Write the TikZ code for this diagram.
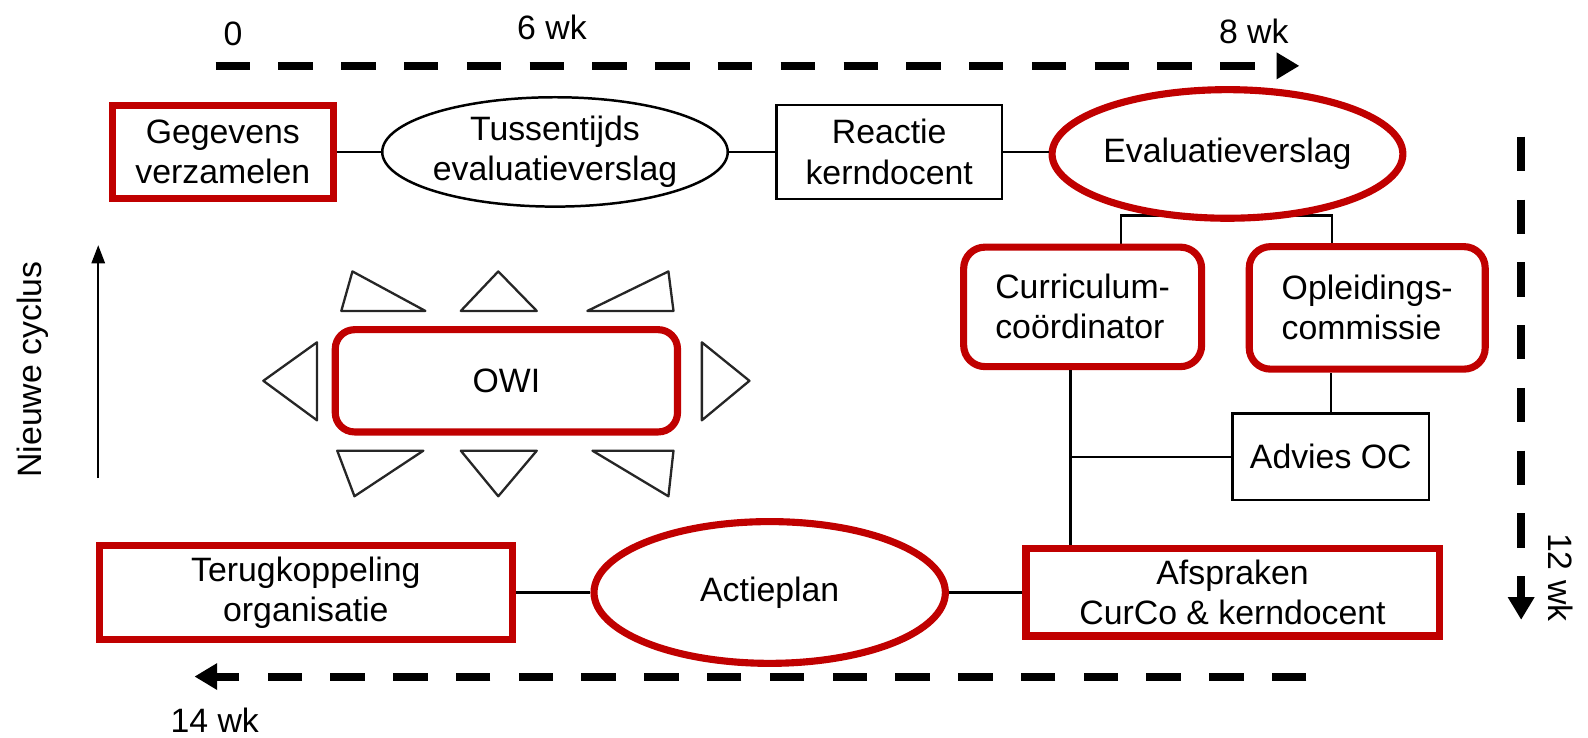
\documentclass[tikz,border=0pt]{standalone}
\usepackage{fontspec}
\setmainfont{Liberation Sans}
\usetikzlibrary{shapes,backgrounds,calc,arrows.meta}
\usepackage{xcolor}
\definecolor{hred}{HTML}{C00000}

\tikzset{
  lbl/.style={font=\fontsize{19}{22.5}\selectfont, align=center, inner sep=0pt},
  box/.style={lbl, draw, line width=1.4pt, rectangle, fill=white},
  redbox/.style={lbl, draw=hred, line width=4pt, rectangle, fill=white},
  redround/.style={redbox, rounded corners=0.42cm},
  bubble/.style={lbl, draw, line width=1.4pt, ellipse, fill=white},
  redbubble/.style={lbl, draw=hred, line width=4pt, ellipse, fill=white},
  link/.style={line width=1.4pt},
  timeline/.style={line width=4.5pt, dash pattern=on 0.68cm off 0.56cm,
    -{Triangle[length=0.45cm,width=0.5cm]}},
  tri/.style={line width=1.3pt, draw=black!85, line join=round}
}

\begin{document}
\begin{tikzpicture}[x=0.02cm, y=-0.02cm]
  \useasboundingbox (0,0) rectangle (1568,728);

  % top row
  \node[redbox, minimum width=4.36cm, minimum height=1.84cm] (geg) at (220,150) {Gegevens\\verzamelen};
  \node[bubble, minimum width=6.54cm, minimum height=2.16cm] (tus) at (548,150) {Tussentijds\\evaluatieverslag};
  \node[box, minimum width=4.46cm, minimum height=1.86cm] (rea) at (878,150) {Reactie\\kerndocent};
  \node[redbubble, minimum width=6.56cm, minimum height=2.54cm] (eva) at (1212,152) {Evaluatieverslag};

  % right column
  \node[redround, align=left, minimum width=4.7cm, minimum height=2.36cm] (cur) at (1069,303) {Curriculum-\\co\"ordinator};
  \node[redround, align=left, minimum width=4.66cm, minimum height=2.42cm] (opl) at (1350,304) {Opleidings-\\commissie};
  \node[box, minimum width=3.88cm, minimum height=1.7cm] (adv) at (1314,451) {Advies OC};

  % bottom row
  \node[redbox, minimum width=8.16cm, minimum height=1.72cm] (afs) at (1217,585) {Afspraken\\CurCo \& kerndocent};
  \node[redbubble, minimum width=6.94cm, minimum height=2.8cm] (act) at (760,585) {Actieplan};
  \node[redbox, minimum width=8.16cm, minimum height=1.86cm] (ter) at (302,585) {Terugkoppeling\\organisatie};

  % OWI with triangles
  \node[redround, rounded corners=0.38cm, minimum width=6.76cm, minimum height=2.02cm] (owi) at (500,376) {OWI};
  \draw[tri] (348,268) -- (337,307) -- (420,307) -- cycle;
  \draw[tri] (492,268) -- (455,307) -- (530,307) -- cycle;
  \draw[tri] (660,268) -- (580,307) -- (665,307) -- cycle;
  \draw[tri] (313,338) -- (313,415) -- (260,376) -- cycle;
  \draw[tri] (693,338) -- (693,415) -- (740,376) -- cycle;
  \draw[tri] (333,445) -- (418,445) -- (350,490) -- cycle;
  \draw[tri] (455,445) -- (530,445) -- (492,490) -- cycle;
  \draw[tri] (585,445) -- (665,445) -- (660,490) -- cycle;

  % connectors
  \draw[link] (geg) -- (tus);
  \draw[link] (tus) -- (rea);
  \draw[link] (rea.east) -- (rea.east -| eva.west);
  \coordinate (fk1) at (1107,213);
  \coordinate (fk2) at (1315,213);
  \begin{scope}[on background layer]
    \draw[link] (fk1 |- cur.north) -- (fk1) -- (fk2) -- (fk2 |- opl.north);
  \end{scope}
  \coordinate (jn) at (1057,451);
  \draw[link] (cur.south -| jn) -- (afs.north -| jn);
  \draw[link] (jn) -- (adv.west);
  \draw[link] (adv.north) -- (adv.north |- opl.south);
  \draw[link] (afs) -- (act);
  \draw[link] (act) -- (ter);

  % time lines
  \coordinate (t0) at (213,65);
  \coordinate (t8) at (1283,65);
  \coordinate (r0) at (1502,135);
  \coordinate (r12) at (1502,612);
  \coordinate (b0) at (1290,668);
  \coordinate (b14) at (192,668);
  \draw[timeline] (t0) -- (t8);
  \draw[timeline] (r0) -- (r12);
  \draw[timeline] (b0) -- (b14);
  \coordinate (cyc0) at (97,472);
  \coordinate (cyc1) at (97,242);
  \draw[link, -{Triangle[length=0.36cm,width=0.26cm]}] (cyc0) -- (cyc1);

  \node[lbl] (lbl0) at (230,33) {0};
  \node[lbl] (lbl6) at (545,27) {6 wk};
  \node[lbl] (lbl8) at (1238,31) {8 wk};
  \node[lbl] (lbl14) at (212,711) {14 wk};
  \node[lbl, rotate=-90] (lbl12) at (1541,570) {12 wk};
  \node[lbl, rotate=90] (lblcyc) at (32,365) {Nieuwe cyclus};
\end{tikzpicture}
\end{document}
